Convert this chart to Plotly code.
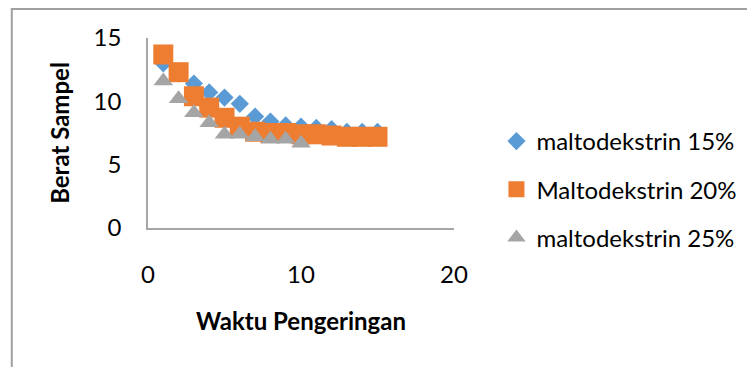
import plotly.graph_objects as go

waktu = [1, 2, 3, 4, 5, 6, 7, 8, 9, 10, 11, 12, 13, 14, 15]
waktu_25 = [1, 2, 3, 4, 5, 6, 7, 8, 9, 10]
malto_15 = [13.0, 12.2, 11.4, 10.7, 10.3, 9.8, 8.8, 8.4, 8.1, 8.0, 7.9, 7.8, 7.6, 7.6, 7.6]
malto_20 = [13.7, 12.3, 10.4, 9.5, 8.7, 8.0, 7.6, 7.5, 7.5, 7.4, 7.4, 7.3, 7.2, 7.2, 7.2]
malto_25 = [11.6, 10.2, 9.1, 8.3, 7.4, 7.4, 7.2, 7.0, 7.0, 6.7]
names = ["maltodekstrin 15%", "Maltodekstrin 20%", "maltodekstrin 25%"]
x_ticks = [0, 10, 20]
y_ticks = [0, 5, 10, 15]

FONT = "Lato"
OFF = 8  # page body margin
W, H = 755 - OFF, 367 - OFF
ML, MT = 148 - OFF, 38 - OFF
PW, PH = 310, 190
MR, MB = W - ML - PW, H - MT - PH


def px_x(p):
    return (p - OFF - ML) / PW


def px_y(p):
    return (MT + PH - (p - OFF)) / PH


fig = go.Figure()
fig.add_trace(go.Scatter(x=waktu, y=malto_15, mode="markers", name=names[0], legendgroup="a",
                         marker=dict(symbol="diamond", size=14, color="#5B9BD5")))
fig.add_trace(go.Scatter(x=waktu, y=malto_20, mode="markers", name=names[1], legendgroup="b",
                         marker=dict(symbol="square", size=20, color="#ED7D31")))
fig.add_trace(go.Scatter(x=waktu_25, y=malto_25, mode="markers", name=names[2], legendgroup="c",
                         marker=dict(symbol="triangle-up", size=17, color="#A5A5A5")))

axis_line = "#A6A6A6"
FS = 24
fig.update_layout(
    width=W, height=H,
    margin=dict(l=ML, r=MR, t=MT, b=MB),
    paper_bgcolor="white", plot_bgcolor="white",
    font=dict(family=FONT, size=FS, color="black"),
    xaxis=dict(range=[0, 20], tickvals=x_ticks, showgrid=False, zeroline=False,
               showline=True, linecolor=axis_line, linewidth=1.5, ticks="",
               ticklabelstandoff=24, tickfont=dict(size=FS),
               title=dict(text="<b>Waktu Pengeringan</b>", font=dict(size=FS), standoff=27)),
    yaxis=dict(range=[0, 15], tickvals=y_ticks, showgrid=False, zeroline=False,
               showline=True, linecolor=axis_line, linewidth=1.5, ticks="",
               ticklabelstandoff=20, tickfont=dict(size=FS),
               title=dict(text="<b>Berat Sampel</b>", font=dict(size=FS), standoff=17)),
    legend=dict(x=px_x(501), y=px_y(119), xanchor="left", yanchor="top",
                font=dict(size=FS), tracegroupgap=14, bgcolor="rgba(0,0,0,0)"),
    shapes=[
        dict(type="line", xref="paper", yref="paper", x0=px_x(10), x1=px_x(10), y0=px_y(9), y1=px_y(370),
             line=dict(color="#A0A0A0", width=2)),
        dict(type="line", xref="paper", yref="paper", x0=px_x(9), x1=px_x(760), y0=px_y(9), y1=px_y(9),
             line=dict(color="#A0A0A0", width=2)),
    ],
)

fig.write_html("out.html")
